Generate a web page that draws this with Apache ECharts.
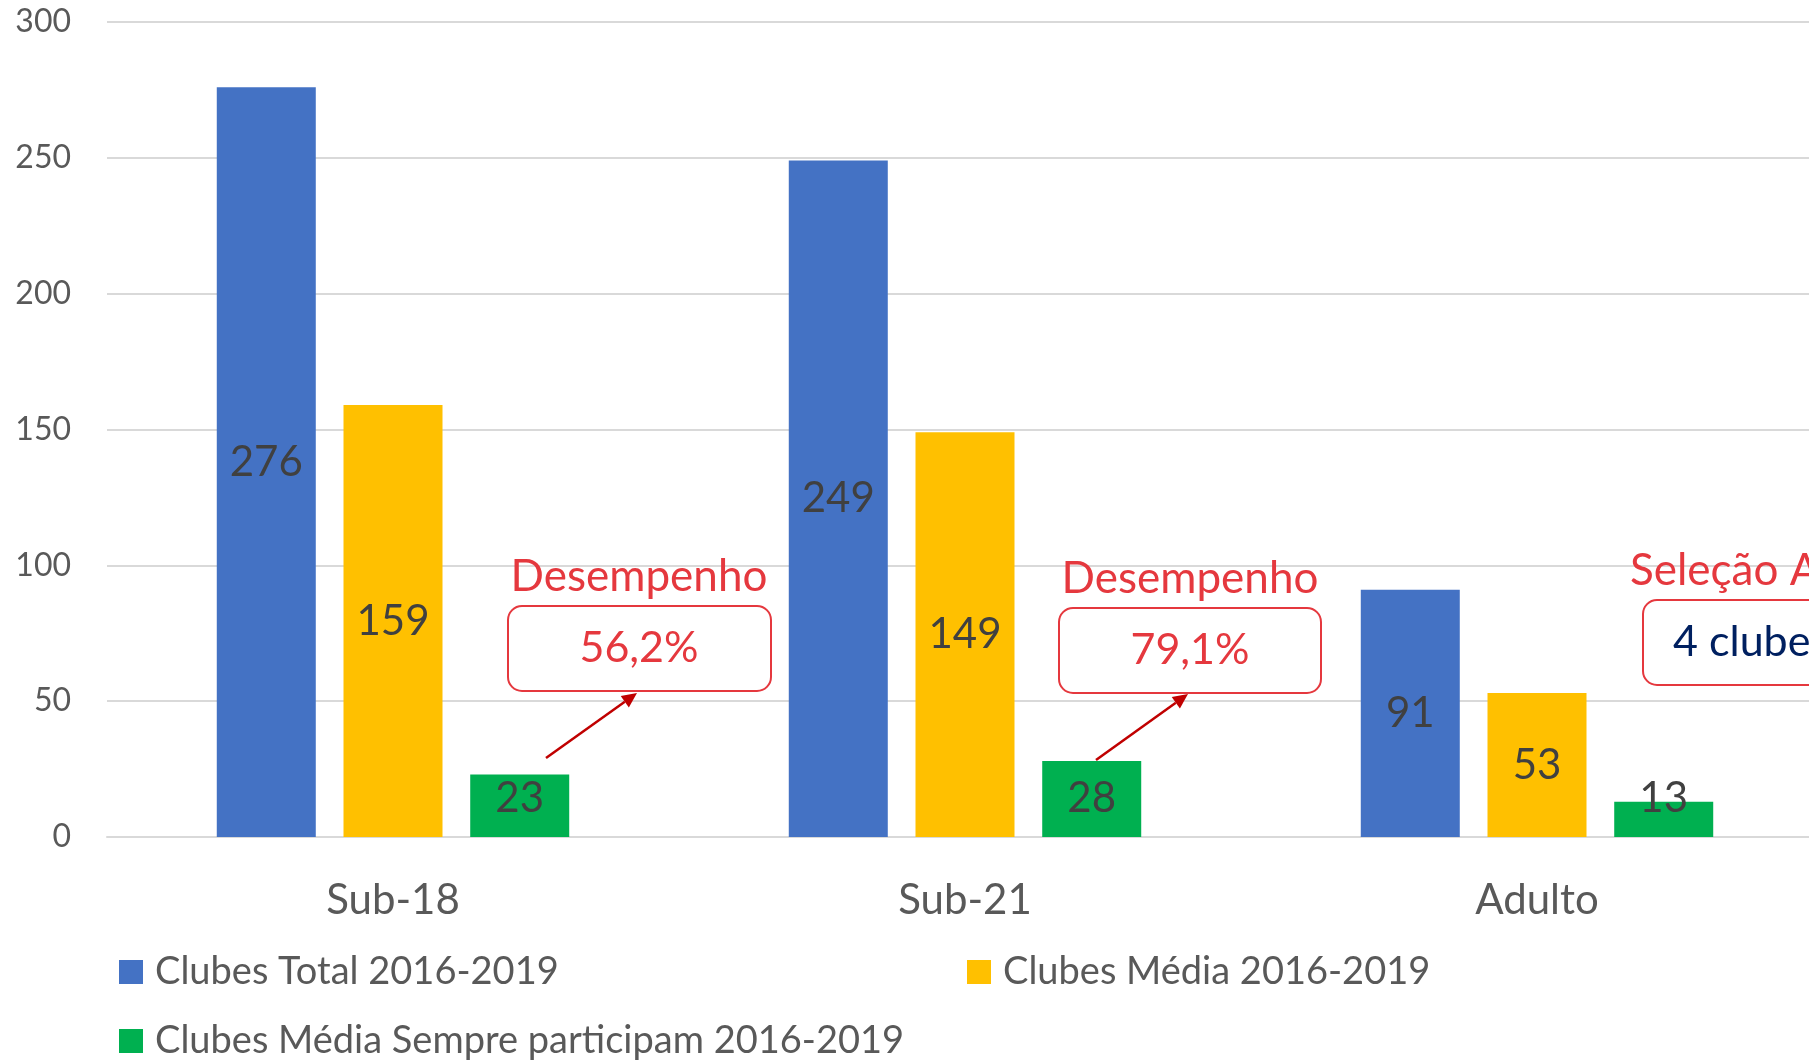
<!DOCTYPE html>
<html>
<head>
<meta charset="utf-8">
<script src="https://cdn.jsdelivr.net/npm/echarts@6/dist/echarts.min.js"></script>
<style>
html,body{margin:0;padding:0;background:#fff;overflow:hidden;}
#chart{width:1823px;height:1061px;}
</style>
</head>
<body>
<div id="chart"></div>
<script>
const categories = ['Sub-18', 'Sub-21', 'Adulto'];
const seriesNames = ['Clubes Total 2016-2019', 'Clubes Média 2016-2019', 'Clubes Média Sempre participam 2016-2019'];
const clubesTotal = [276, 249, 91];
const clubesMedia = [159, 149, 53];
const clubesSempre = [23, 28, 13];
const yMin = 0, yMax = 300, yStep = 50;
const annoTitles = ['Desempenho', 'Desempenho', 'Seleção Adulto'];
const annoValues = ['56,2%', '79,1%', '4 clubes'];

const FONT = 'Lato';
const colors = ['#4472C4', '#FFC000', '#00B050'];
const RED = '#E5383E';
const DARKRED = '#C00000';

const chart = echarts.init(document.getElementById('chart'), null, {renderer: 'canvas'});

function barSeries(name, data, color) {
  return {
    name: name, type: 'bar', data: data,
    barWidth: 99, barGap: '28%',
    itemStyle: {color: color},
    label: {show: true, position: 'inside', color: '#404040', fontFamily: FONT, fontSize: 42},
    // keep short-bar labels from dropping below the axis (as in the original)
    labelLayout: function (p) {
      const mid = p.rect.y + p.rect.height / 2;
      const lim = p.rect.y + p.rect.height - 39;
      return {
        x: p.rect.x + p.rect.width / 2,
        y: Math.min(mid, lim),
        align: 'center',
        verticalAlign: 'middle'
      };
    },
    emphasis: {disabled: true},
    animation: false
  };
}

// annotation layout (pixel placement of the free-floating callouts)
const boxes = [
  {x: 508, y: 606, w: 263, h: 85, titleX: 639, titleY: 577, titleAlign: 'center', valX: 639, valAlign: 'center', valColor: RED, arrow: [546, 758, 637, 693]},
  {x: 1059, y: 608, w: 262, h: 85, titleX: 1190, titleY: 579, titleAlign: 'center', valX: 1190, valAlign: 'center', valColor: RED, arrow: [1096, 760, 1188, 694]},
  {x: 1643, y: 600, w: 263, h: 85, titleX: 1630, titleY: 571, titleAlign: 'left', valX: 1673, valAlign: 'left', valColor: '#002060', arrow: null}
];

const graphics = [];
boxes.forEach((b, i) => {
  graphics.push({type: 'text', x: b.titleX, y: b.titleY,
    style: {text: annoTitles[i], fill: RED, font: '44px ' + FONT, textAlign: b.titleAlign, textVerticalAlign: 'middle'}, z: 10});
  graphics.push({type: 'rect', shape: {x: b.x, y: b.y, width: b.w, height: b.h, r: 14},
    style: {fill: '#fff', stroke: RED, lineWidth: 2}, z: 9});
  graphics.push({type: 'text', x: b.valX, y: b.y + b.h / 2,
    style: {text: annoValues[i], fill: b.valColor, font: '43px ' + FONT, textAlign: b.valAlign, textVerticalAlign: 'middle'}, z: 10});
  if (b.arrow) {
    const [x1, y1, x2, y2] = b.arrow;
    const ang = Math.atan2(y2 - y1, x2 - x1);
    const L = 15, W = 7;
    const bx = x2 - L * Math.cos(ang), by = y2 - L * Math.sin(ang);
    graphics.push({type: 'line', shape: {x1: x1, y1: y1, x2: bx, y2: by},
      style: {stroke: DARKRED, lineWidth: 2.5}, z: 10});
    graphics.push({type: 'polygon', shape: {points: [
      [x2, y2],
      [bx + W * Math.sin(ang), by - W * Math.cos(ang)],
      [bx - W * Math.sin(ang), by + W * Math.cos(ang)]
    ]}, style: {fill: DARKRED}, z: 10});
  }
});

function legend(name, left, top) {
  return {
    data: [name], left: left, top: top, orient: 'horizontal', padding: 0,
    itemWidth: 24, itemHeight: 24, icon: 'rect', selectedMode: false,
    textStyle: {color: '#595959', fontFamily: FONT, fontSize: 38, padding: [0, 0, 0, 7]}
  };
}

chart.setOption({
  backgroundColor: '#ffffff',
  animation: false,
  color: colors,
  grid: {left: 107, top: 22, right: 0, height: 815, containLabel: false},
  legend: [
    legend(seriesNames[0], 119, 953),
    legend(seriesNames[1], 967, 953),
    legend(seriesNames[2], 119, 1022)
  ],
  xAxis: {
    type: 'category', data: categories,
    axisLine: {show: true, lineStyle: {color: '#D9D9D9', width: 2}},
    axisTick: {show: false},
    axisLabel: {color: '#595959', fontFamily: FONT, fontSize: 42, margin: 42}
  },
  yAxis: {
    type: 'value', min: yMin, max: yMax, interval: yStep,
    axisLine: {show: false}, axisTick: {show: false},
    splitLine: {lineStyle: {color: '#D9D9D9', width: 2}},
    axisLabel: {color: '#595959', fontFamily: FONT, fontSize: 32, margin: 36}
  },
  series: [
    barSeries(seriesNames[0], clubesTotal, colors[0]),
    barSeries(seriesNames[1], clubesMedia, colors[1]),
    barSeries(seriesNames[2], clubesSempre, colors[2])
  ],
  graphic: graphics
});
</script>
</body>
</html>
